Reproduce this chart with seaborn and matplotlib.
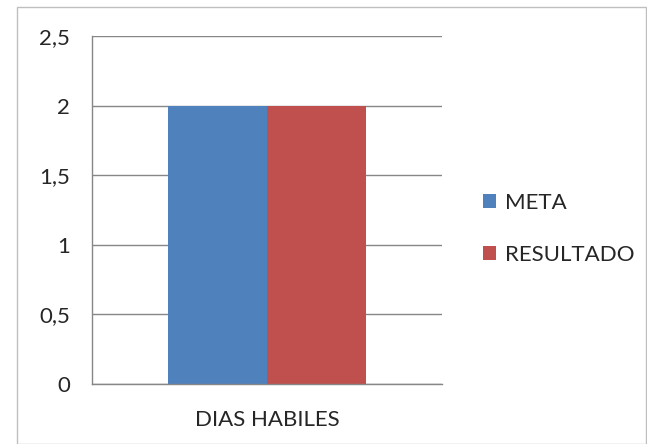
import pandas as pd
import seaborn as sns
import matplotlib.pyplot as plt
from matplotlib.patches import Rectangle

categorias = ["DIAS HABILES"]
series = ["META", "RESULTADO"]
valores = [2, 2]
yticks = [0, 0.5, 1, 1.5, 2, 2.5]
ytick_labels = ["0", "0,5", "1", "1,5", "2", "2,5"]
colores = ["#4F81BD", "#C0504D"]

df = pd.DataFrame({"categoria": categorias * len(series), "serie": series, "valor": valores})

sns.set_style("white")
plt.rcParams["font.family"] = ["Lato", "DejaVu Sans"]

fig = plt.figure(figsize=(6.47, 4.44), dpi=100)
ax = fig.add_axes([92 / 647, 1 - 384 / 444, 350 / 647, 348 / 444])

sns.barplot(data=df, x="categoria", y="valor", hue="serie", palette=colores,
            width=0.566, saturation=1, ax=ax, linewidth=0)

ax.set_xlim(-0.5, 0.5)
ax.set_ylim(0, 2.5)
ax.set_yticks(yticks)
ax.set_yticklabels(ytick_labels, fontsize=16)
ax.set_xticks([0])
ax.set_xticklabels(categorias, fontsize=16)
ax.set_xticks([-0.5, 0.5], minor=True)
ax.tick_params(axis="x", which="major", length=0, pad=19)
ax.tick_params(axis="x", which="minor", length=6, color="#868686", width=1, direction="out")
ax.tick_params(axis="y", length=5, color="#868686", width=1, direction="out", pad=11)
ax.set_xlabel("")
ax.set_ylabel("")
ax.yaxis.grid(True, color="#868686", linewidth=1)
ax.set_axisbelow(True)
for s in ["top", "right"]:
    ax.spines[s].set_visible(False)
for s in ["left", "bottom"]:
    ax.spines[s].set_color("#868686")
    ax.spines[s].set_linewidth(1)

ax.legend(loc="center left", bbox_to_anchor=(1.06, 0.445), frameon=False, fontsize=16,
          handlelength=0.6, handleheight=0.6, handletextpad=0.4, labelspacing=1.45)

fig.patches.append(Rectangle((17 / 647, 0.5 / 444), 629 / 647, 436.5 / 444, transform=fig.transFigure,
                             fill=False, edgecolor="#BFBFBF", linewidth=1))

fig.savefig("out.png", dpi=100)
